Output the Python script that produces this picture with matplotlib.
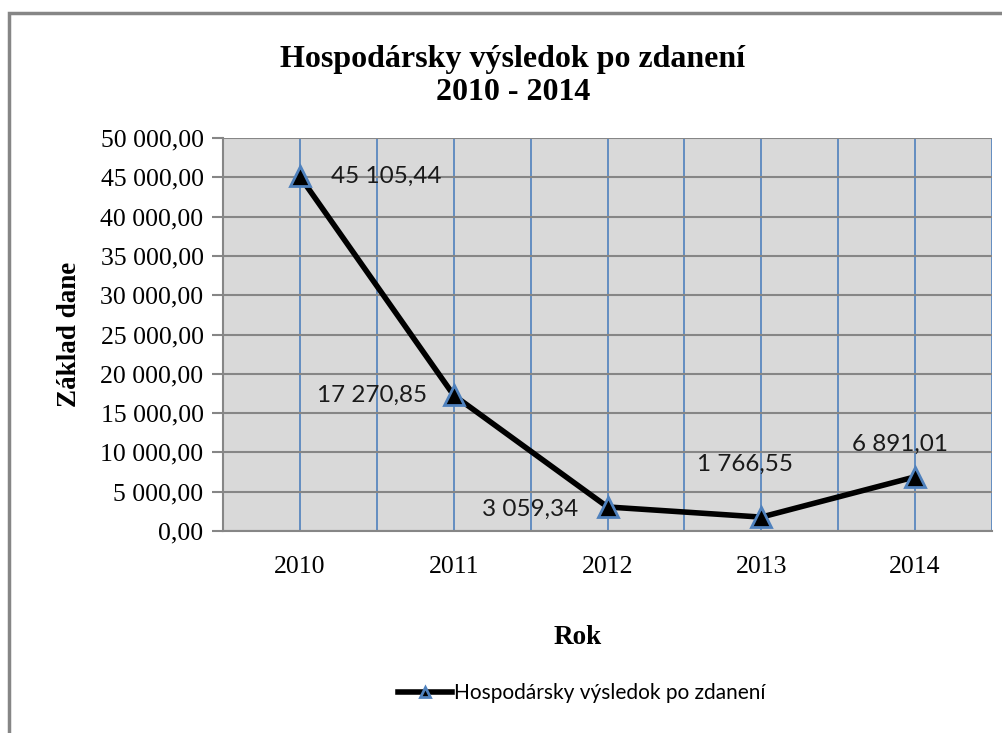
import matplotlib
matplotlib.use("Agg")
import matplotlib.pyplot as plt
from matplotlib.ticker import FuncFormatter, MultipleLocator
from matplotlib.patches import Rectangle

years = ["2010", "2011", "2012", "2013", "2014"]
values = [45105.44, 17270.85, 3059.34, 1766.55, 6891.01]
value_labels = ["45 105,44", "17 270,85", "3 059,34", "1 766,55", "6 891,01"]
title = "Hospodársky výsledok po zdanení\n2010 - 2014"
series_name = "Hospodársky výsledok po zdanení"
y_label = "Základ dane"
x_label = "Rok"

serif = ["Liberation Serif", "DejaVu Serif"]
sans = ["Lato", "DejaVu Sans"]
plt.rcParams["font.family"] = serif

fig = plt.figure(figsize=(10.02, 7.33), dpi=100)
ax = fig.add_axes([223/1002, 1-531/733, (992-223)/1002, (531-138)/733])
ax.set_facecolor("#d9d9d9")

x = list(range(len(years)))
line, = ax.plot(x, values, color="black", lw=4, marker="^", markersize=15,
                markerfacecolor="black", markeredgecolor="#4f81bd", markeredgewidth=2,
                zorder=5, clip_on=False)

ax.set_xlim(-0.5, 4.5)
ax.set_ylim(0, 50000)
ax.yaxis.set_major_locator(MultipleLocator(5000))
ax.yaxis.set_major_formatter(FuncFormatter(lambda v, p: f"{v:,.2f}".replace(",", " ").replace(".", ",")))
ax.set_xticks(x)
ax.set_xticklabels(years)
ax.set_xticks([i + 0.5 for i in range(-1, 5)], minor=True)

ax.grid(axis="y", which="major", color="#868686", lw=1.5)
ax.grid(axis="x", which="major", color="#4f81bd", lw=1.2)
ax.grid(axis="x", which="minor", color="#4f81bd", lw=1.2)
ax.set_axisbelow(True)

for s in ["top", "right"]:
    ax.spines[s].set_visible(False)
ax.spines["left"].set_color("#868686")
ax.spines["left"].set_linewidth(1.5)
ax.spines["bottom"].set_color("#868686")
ax.spines["bottom"].set_linewidth(1.5)

ax.tick_params(axis="y", which="major", length=8, width=1.5, color="#868686",
               labelsize=18.5, pad=6)
ax.tick_params(axis="x", which="both", length=0, labelsize=18.5, pad=18)
fig.canvas.draw()
for lbl in ax.get_xticklabels() + ax.get_yticklabels():
    lbl.set_fontfamily(serif)

offsets = [(31, 0, "left", "center"), (-27, 0, "right", "center"),
           (-29, -2, "right", "center"), (-16, 53, "center", "center"),
           (-15, 32, "center", "center")]
for xi, v, lab, (dx, dy, ha, va) in zip(x, values, value_labels, offsets):
    ax.annotate(lab, (xi, v), xytext=(dx, dy), textcoords="offset pixels",
                ha=ha, va=va, fontsize=17.5, family=sans, color="#1a1a1a")

fig.text(0.512, 1-76/733, title, ha="center", va="center", fontsize=23,
         fontweight="bold", family=serif, linespacing=1.2)
fig.text(70/1002, 1-334/733, y_label, rotation=90, ha="center", va="center",
         fontsize=19.5, fontweight="bold", family=serif)
fig.text(578/1002, 1-637/733, x_label, ha="center", va="center",
         fontsize=19.5, fontweight="bold", family=serif)

leg = fig.legend([line], [series_name], loc="center", bbox_to_anchor=(582/1002, 1-693/733),
                 frameon=False, prop={"family": sans, "size": 15}, handlelength=2.6,
                 handletextpad=0.1, markerscale=0.5)

fig.add_artist(Rectangle((9/1002, -0.1), 1.2, (1-13/733) + 0.1, transform=fig.transFigure,
                         fill=False, edgecolor="#868686", lw=2.5))

fig.savefig("out.png", dpi=100)
